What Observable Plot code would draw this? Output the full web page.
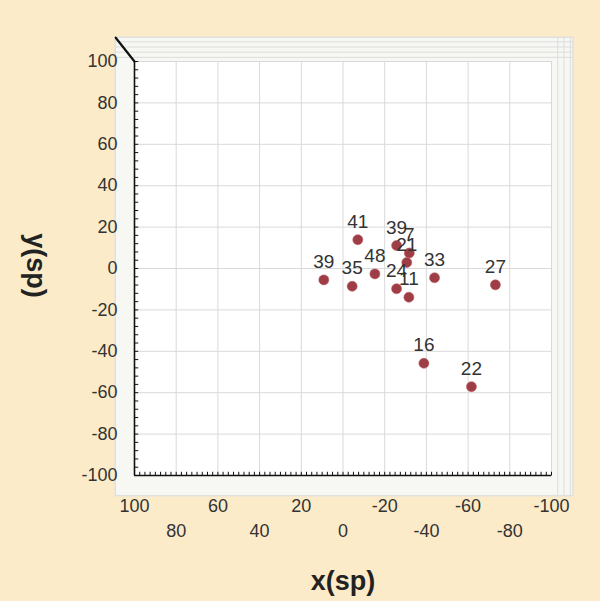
<!DOCTYPE html>
<html><head><meta charset="utf-8">
<script src="https://cdn.jsdelivr.net/npm/d3@7"></script>
<script src="https://cdn.jsdelivr.net/npm/@observablehq/plot@0.6"></script>
<style>
html,body{margin:0;padding:0;background:#fcebc9;}
#chart svg{display:block;}
</style></head><body><div id="chart"></div>
<script>
// Data
const labels  = ["39", "35", "41", "48", "39", "7", "21", "24", "11", "33", "27", "16", "22"];
const xValues = [9.2, -4.4, -7.1, -15.3, -25.7, -31.8, -30.6, -25.7, -31.6, -43.9, -73.1, -38.8, -61.6];
const yValues = [-5.5, -8.6, 13.9, -2.6, 11.1, 7.5, 2.9, -9.8, -13.9, -4.5, -7.9, -45.8, -57.1];

// Tick labels
const xTicksUpper = [100, 60, 20, -20, -60, -100];
const xTicksLower = [80, 40, 0, -40, -80];
const yTicks = [100, 80, 60, 40, 20, 0, -20, -40, -60, -80, -100];
const gridTicks = [-100, -80, -60, -40, -20, 0, 20, 40, 60, 80, 100];
const xMinor = d3.range(-100, 100.01, 2.5);
const yMinor = d3.range(-100, 100.01, 4);

// 3-D box outline (seen from top), in data units
const boxX = [109, -110.5];
const boxY = [-110, 111.5];
const boxBackY = [102, 104.5, 107, 109.5];
const boxBackX = [-103, -106, -109];

const points = labels.map((label, i) => ({label, x: xValues[i], y: yValues[i]}));
const fmt = d => String(d);
const font = "'Liberation Sans', Arial, Helvetica, sans-serif";

const chart = Plot.plot({
  width: 600, height: 601,
  marginLeft: 134, marginRight: 49, marginTop: 61, marginBottom: 126,
  style: {background: "#fcebc9", fontFamily: font, overflow: "visible"},
  x: {domain: [100, -100]},
  y: {domain: [-100, 100]},
  marks: [
    Plot.rect([0], {x1: () => boxX[0], x2: () => boxX[1], y1: () => boxY[0], y2: () => boxY[1],
      fill: "#f7f7f4", stroke: "#e0e0e0", strokeWidth: 1.5, clip: false}),
    Plot.ruleY(boxBackY, {x1: () => boxX[0], x2: () => boxX[1], stroke: "#dcdcdc", strokeWidth: 1}),
    Plot.ruleX(boxBackX, {y1: () => boxY[0], y2: () => boxY[1], stroke: "#dcdcdc", strokeWidth: 1}),
    Plot.frame({fill: "white", stroke: "#e6e6e6"}),
    Plot.gridX(gridTicks, {stroke: "#d9d9d9", strokeOpacity: 1, strokeWidth: 1}),
    Plot.gridY(gridTicks, {stroke: "#d9d9d9", strokeOpacity: 1, strokeWidth: 1}),
    // axis lines
    Plot.ruleX([100], {stroke: "#111", strokeWidth: 1.6}),
    Plot.ruleY([-100], {stroke: "#111", strokeWidth: 1.6}),
    Plot.line([[100, 100], [boxX[0], boxY[1]]], {stroke: "#111", strokeWidth: 2.2}),
    // minor ticks pointing inward
    Plot.link(xMinor, {x1: d => d, x2: d => d, y1: () => -100, y2: () => -98.2, stroke: "#111", strokeWidth: 1}),
    Plot.link(yMinor, {x1: () => 100, x2: () => 98.2, y1: d => d, y2: d => d, stroke: "#111", strokeWidth: 1}),
    // tick labels
    Plot.axisY({ticks: yTicks, tickSize: 0, tickPadding: 17, fontSize: 18, fill: "#333", tickFormat: fmt, label: null}),
    Plot.axisX({ticks: xTicksUpper, tickSize: 0, tickPadding: 24, fontSize: 18, fill: "#333", tickFormat: fmt, label: null}),
    Plot.axisX({ticks: xTicksLower, tickSize: 0, tickPadding: 49, fontSize: 18, fill: "#333", tickFormat: fmt, label: null}),
    // data
    Plot.dot(points, {x: "x", y: "y", r: 5, fill: "#9e3d45", stroke: "#b85a60", strokeWidth: 0.6}),
    Plot.text(points, {x: "x", y: "y", text: "label", dy: -18, fontSize: 19, fill: "#333"}),
    // axis titles
    Plot.text(["x(sp)"], {text: d => d, frameAnchor: "bottom", textAnchor: "middle", lineAnchor: "middle",
      dy: 106, fontSize: 27, fontWeight: "bold", fill: "#222"}),
    Plot.text(["y(sp)"], {text: d => d, frameAnchor: "left", textAnchor: "middle", lineAnchor: "middle",
      dx: -99, dy: -3, rotate: 90, fontSize: 27, fontWeight: "bold", fill: "#222"})
  ]
});
document.getElementById("chart").appendChild(chart);
</script>
</body></html>
